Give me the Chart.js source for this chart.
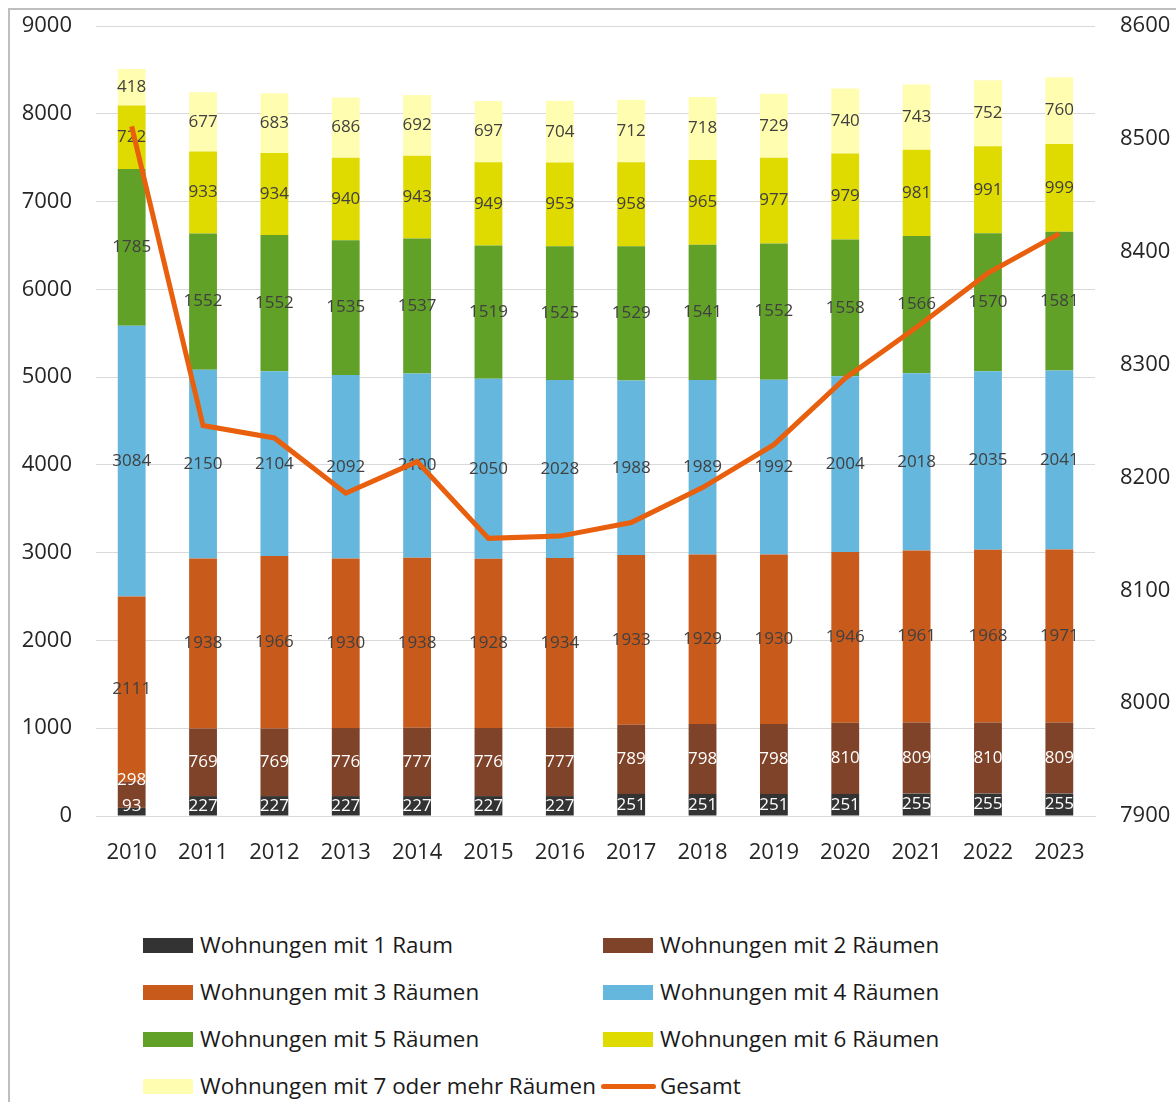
<!DOCTYPE html>
<html>
<head>
<meta charset="utf-8">
<script src="https://cdn.jsdelivr.net/npm/chart.js@4"></script>
<style>
  body { margin: 0; background: #fff; font-family: "Open Sans", sans-serif; }
  #wrap { position: relative; width: 1176px; height: 1102px; overflow: hidden; }
  #frame { position: absolute; left: 8px; top: 8px; width: 1200px; height: 1200px; border: 2px solid #bfbfbf; box-sizing: border-box; }
  #chart { position: absolute; left: 0; top: 0; }
  .leg { position: absolute; font-size: 22.4px; color: #1a1a1a; white-space: nowrap; line-height: 26px; }
  .leg i { position: absolute; display: block; }
</style>
</head>
<body>
<div id="wrap">
  <div id="frame"></div>
  <canvas id="chart" width="1176" height="880"></canvas>
  <div id="legend"></div>
</div>
<script>
const years = ['2010','2011','2012','2013','2014','2015','2016','2017','2018','2019','2020','2021','2022','2023'];

const raum1 = [93, 227, 227, 227, 227, 227, 227, 251, 251, 251, 251, 255, 255, 255];
const raum2 = [298, 769, 769, 776, 777, 776, 777, 789, 798, 798, 810, 809, 810, 809];
const raum3 = [2111, 1938, 1966, 1930, 1938, 1928, 1934, 1933, 1929, 1930, 1946, 1961, 1968, 1971];
const raum4 = [3084, 2150, 2104, 2092, 2100, 2050, 2028, 1988, 1989, 1992, 2004, 2018, 2035, 2041];
const raum5 = [1785, 1552, 1552, 1535, 1537, 1519, 1525, 1529, 1541, 1552, 1558, 1566, 1570, 1581];
const raum6 = [722, 933, 934, 940, 943, 949, 953, 958, 965, 977, 979, 981, 991, 999];
const raum7 = [418, 677, 683, 686, 692, 697, 704, 712, 718, 729, 740, 743, 752, 760];
const gesamt = [8511, 8246, 8235, 8186, 8214, 8146, 8148, 8160, 8191, 8229, 8288, 8333, 8381, 8416];

const leftTicks = [0, 1000, 2000, 3000, 4000, 5000, 6000, 7000, 8000, 9000];
const rightTicks = [7900, 8000, 8100, 8200, 8300, 8400, 8500, 8600];

const barSeries = [
    { label: 'Wohnungen mit 1 Raum', data: raum1, color: '#333333', text: '#ffffff' },
    { label: 'Wohnungen mit 2 Räumen', data: raum2, color: '#7f432a', text: '#ffffff' },
    { label: 'Wohnungen mit 3 Räumen', data: raum3, color: '#c85a1c', text: '#404040' },
    { label: 'Wohnungen mit 4 Räumen', data: raum4, color: '#65b7dd', text: '#404040' },
    { label: 'Wohnungen mit 5 Räumen', data: raum5, color: '#62a128', text: '#404040' },
    { label: 'Wohnungen mit 6 Räumen', data: raum6, color: '#dfda00', text: '#404040' },
    { label: 'Wohnungen mit 7 oder mehr Räumen', data: raum7, color: '#fffdb0', text: '#404040' }
];
const lineColor = '#e8600e';

// label y per segment: middle of segment, pushed up when labels would collide
let labelY = {};
const segmentLabels = {
    id: 'segmentLabels',
    beforeDatasetsDraw(chart) {
        labelY = {};
        const bottom = chart.chartArea.bottom;
        const prev = [];
        chart.data.datasets.forEach((ds, d) => {
            if (ds.type === 'line') return;
            labelY[d] = chart.getDatasetMeta(d).data.map((bar, i) => {
                let y = Math.min((bar.y + bar.base) / 2, bottom - 10);
                if (prev[i] !== undefined && prev[i] - y < 26) y = prev[i] - 26;
                prev[i] = y;
                return y;
            });
        });
    },
    afterDatasetDraw(chart, args) {
        const ds = chart.data.datasets[args.index];
        if (ds.type === 'line') return;
        const ctx = chart.ctx;
        ctx.save();
        ctx.font = '17px "Open Sans"';
        ctx.textAlign = 'center';
        ctx.textBaseline = 'middle';
        ctx.fillStyle = ds.labelColor;
        args.meta.data.forEach((bar, i) => {
            ctx.fillText(String(ds.data[i]), bar.x, labelY[args.index][i]);
        });
        ctx.restore();
    }
};

const datasets = barSeries.map(s => ({
    type: 'bar',
    label: s.label,
    data: s.data,
    backgroundColor: s.color,
    labelColor: s.text,
    stack: 'w',
    yAxisID: 'y',
    order: 1,
    barPercentage: 0.39,
    categoryPercentage: 1
}));
datasets.push({
    type: 'line',
    label: 'Gesamt',
    data: gesamt,
    borderColor: lineColor,
    borderWidth: 5,
    pointRadius: 0,
    tension: 0,
    yAxisID: 'y1',
    order: 0
});

const tickFont = { family: 'Open Sans', size: 22 };
const plain = v => String(v);

new Chart(document.getElementById('chart'), {
    type: 'bar',
    data: { labels: years, datasets: datasets },
    options: {
        responsive: false,
        animation: false,
        layout: { padding: { top: 26, left: 0, right: 0, bottom: 0 } },
        plugins: { legend: { display: false }, tooltip: { enabled: false } },
        scales: {
            x: {
                stacked: true,
                grid: { display: false, drawTicks: false },
                border: { color: '#d9d9d9' },
                ticks: { font: tickFont, color: '#262626', padding: 24 },
                afterFit: s => { s.height = 64; }
            },
            y: {
                stacked: true,
                min: 0, max: 9000,
                afterBuildTicks: s => { s.ticks = leftTicks.map(v => ({ value: v })); },
                grid: { color: '#d9d9d9', tickLength: 24, tickColor: 'rgba(0,0,0,0)' },
                border: { display: false },
                ticks: { font: tickFont, color: '#262626', padding: 0, callback: plain },
                afterFit: s => { s.width = 96; }
            },
            y1: {
                position: 'right',
                min: 7900, max: 8600,
                afterBuildTicks: s => { s.ticks = rightTicks.map(v => ({ value: v })); },
                grid: { display: false, tickLength: 25 },
                border: { display: false },
                ticks: { font: tickFont, color: '#262626', padding: 0, callback: plain },
                afterFit: s => { s.width = 81; }
            }
        }
    },
    plugins: [segmentLabels]
});

// legend in two columns below the chart
const legend = document.getElementById('legend');
const items = barSeries.map(s => ({ label: s.label, color: s.color, line: false }));
items.push({ label: 'Gesamt', color: lineColor, line: true });
items.forEach((it, i) => {
    const col = i % 2, row = Math.floor(i / 2);
    const el = document.createElement('div');
    el.className = 'leg';
    el.style.left = (col === 0 ? 200 : 660) + 'px';
    el.style.top = (932 + row * 47) + 'px';
    el.textContent = it.label;
    const mark = document.createElement('i');
    if (it.line) {
        mark.style.cssText = 'left:-59px;top:11px;width:55px;height:5px;border-radius:3px;background:' + it.color;
    } else {
        mark.style.cssText = 'left:-57px;top:6px;width:50px;height:15px;background:' + it.color;
    }
    el.appendChild(mark);
    legend.appendChild(el);
});
</script>
</body>
</html>
